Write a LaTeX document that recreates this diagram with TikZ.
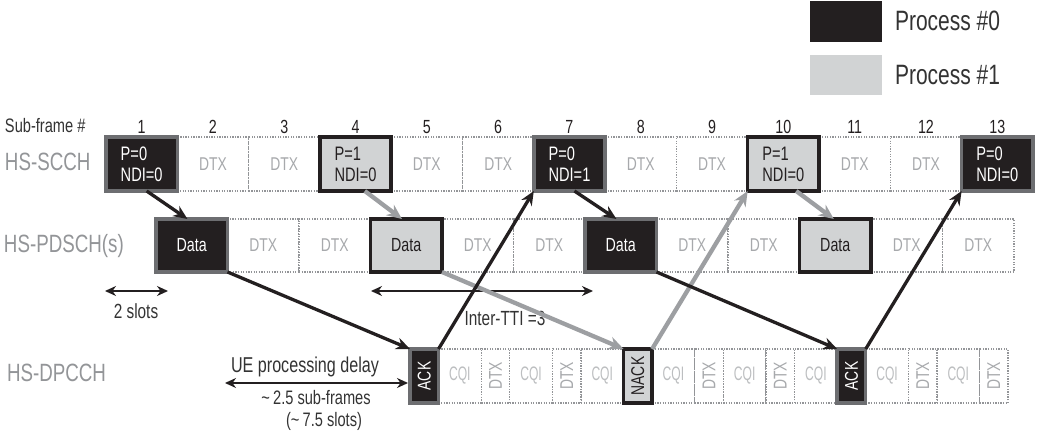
\documentclass[tikz,border=0pt]{standalone}
\usepackage{fontspec}
\setmainfont{Liberation Sans}
\newfontfamily\cf[FakeStretch=0.75]{Liberation Sans}
\newfontfamily\cfn[FakeStretch=0.62]{Liberation Sans}
\usetikzlibrary{arrows.meta,calc}
\newcommand\myfs[2]{\fontsize{#1}{#2}\selectfont}
\definecolor{pblack}{HTML}{231F20}
\definecolor{pgray}{HTML}{D1D3D4}
\definecolor{bordergray}{HTML}{6D6E71}
\definecolor{dotgray}{HTML}{939598}
\definecolor{dtxtxt}{HTML}{A7A9AC}
\definecolor{cqitxt}{HTML}{BCBEC0}
\definecolor{lblgray}{HTML}{939598}
\definecolor{arrgray}{HTML}{9D9FA2}
\definecolor{anntxt}{HTML}{333333}
\tikzset{
  every node/.style={inner sep=0pt, outer sep=0pt},
  dtxbox/.style={draw=dotgray, line width=1.3pt, dash pattern=on 1.3pt off 1.3pt, fill=white, text=dtxtxt, font=\cf\myfs{18.5}{18.5}},
  cqibox/.style={dtxbox, text=cqitxt, font=\cfn\myfs{19.5}{19.5}},
  p0box/.style={draw=bordergray, line width=3.5pt, fill=pblack, text=white},
  p1box/.style={draw=pblack, line width=3.5pt, fill=pgray, text=pblack},
  pinfo/.style={align=left, font=\cf\myfs{19.5}{21}},
  datatxt/.style={font=\cf\myfs{19}{19}},
  acktxt/.style={font=\cf\myfs{18.5}{18.5}},
  rowA/.style={minimum width=71.3pt, minimum height=54pt},
  rowB/.style={minimum width=71.5pt, minimum height=53pt},
  slotbox/.style={minimum width=28.5pt, minimum height=54pt},
  cqiw/.style={minimum width=42.7pt, minimum height=54pt},
  rowlabel/.style={anchor=west, text=lblgray, font=\cf\myfs{25}{25}},
  numlabel/.style={text=pblack, font=\cf\myfs{19}{19}},
  ann/.style={text=anntxt, font=\cf\myfs{20.5}{22}},
  legtxt/.style={anchor=west, text=anntxt, font=\cf\myfs{28}{28}},
  blackarrow/.style={draw=pblack, line width=3.3pt, -{Stealth[length=14pt,width=12pt]}},
  grayarrow/.style={draw=arrgray, line width=4.3pt, -{Stealth[length=15pt,width=13pt]}},
  dimarrow/.style={draw=pblack, line width=1.8pt, {Stealth[length=11pt,width=10pt]}-{Stealth[length=11pt,width=10pt]}},
}
\begin{document}
\begin{tikzpicture}[x=1pt,y=-1pt]
\useasboundingbox (0,0) rectangle (1059,435);

% legend
\node[fill=pblack, minimum width=72pt, minimum height=41pt] (leg0) at (846,21.5) {};
\node[fill=pgray, minimum width=72pt, minimum height=40pt] (leg1) at (846,75) {};
\node[legtxt] (lt0) at (895,21) {Process \#0};
\node[legtxt] (lt1) at (895,75) {Process \#1};

% labels
\node[anchor=west, text=anntxt, font=\cf\myfs{19.5}{19.5}] (sfl) at (5,126) {Sub-frame \#};
\node[rowlabel] (l1) at (5,162) {HS-SCCH};
\node[rowlabel] (l2) at (4,246) {HS-PDSCH(s)};
\node[rowlabel] (l3) at (7,373) {HS-DPCCH};

\foreach \i in {1,...,13}
  \node[numlabel] (n\i) at ({106+71.3*(\i-0.5)},127) {\i};

% row 1: HS-SCCH
\foreach \i in {2,3,5,6,8,9,11,12}
  \node[dtxbox,rowA] (s\i) at ({106+71.3*(\i-0.5)},164) {DTX};
\node[p0box,rowA,pinfo] (s1) at (141.65,164) {P=0\\NDI=0};
\node[p1box,rowA,pinfo] (s4) at (355.55,164) {P=1\\NDI=0};
\node[p0box,rowA,pinfo] (s7) at (569.45,164) {P=0\\NDI=1};
\node[p1box,rowA,pinfo] (s10) at (783.35,164) {P=1\\NDI=0};
\node[p0box,rowA,pinfo] (s13) at (997.25,164) {P=0\\NDI=0};

% row 2: HS-PDSCH
\foreach \i in {2,3,5,6,8,9,11,12}
  \node[dtxbox,rowB] (d\i) at ({156+71.5*(\i-0.5)},245.5) {DTX};
\node[p0box,rowB,datatxt] (d1) at (191.75,245.5) {Data};
\node[p1box,rowB,datatxt] (d4) at (406.25,245.5) {Data};
\node[p0box,rowB,datatxt] (d7) at (620.75,245.5) {Data};
\node[p1box,rowB,datatxt] (d10) at (835.25,245.5) {Data};

% row 3: HS-DPCCH
\foreach \k in {0,...,7}
  \node[cqibox,cqiw] (q\k) at ({410+71.2*\k+28.5+21.35},376) {CQI};
\foreach \k in {1,2,4,5,7,8}
  \node[dtxbox,slotbox] (h\k) at ({410+71.2*\k+14.25},376) {\rotatebox{90}{DTX}};
\node[p0box,slotbox,acktxt] (h0) at (424.25,376) {\rotatebox{90}{ACK}};
\node[p1box,slotbox,acktxt] (h3) at (637.85,376) {\rotatebox{90}{NACK}};
\node[p0box,slotbox,acktxt] (h6) at (851.45,376) {\rotatebox{90}{ACK}};

% dimension arrows
\coordinate (a1) at (105,291);
\coordinate (a2) at (168,291);
\coordinate (b1) at (371,291);
\coordinate (b2) at (593,291);
\coordinate (c1) at (225,383);
\coordinate (c2) at (408,383);
\draw[dimarrow] (a1) -- (a2);
\draw[dimarrow] (b1) -- (b2);
\draw[dimarrow] (c1) -- (c2);
\node[ann] (t2s) at (136,311) {2 slots};
\node[ann] (tit) at (505,318) {Inter-TTI =3};
\node[ann, font=\cf\myfs{21.5}{21.5}] (tue) at (305,367) {UE processing delay};
\node[ann, font=\cf\myfs{19.5}{19.5}] (tsf) at (316,397.5) {\textasciitilde\,2.5 sub-frames};
\node[ann, font=\cf\myfs{19.5}{19.5}] (tsl) at (324,421) {(\textasciitilde\,7.5 slots)};

% process #1 arrows (gray)
\draw[grayarrow] ($(s4.south west)!0.63!(s4.south east)$) -- ($(d4.north west)!0.44!(d4.north east)$);
\draw[grayarrow] (d4.south east) -- (h3.north west);
\draw[grayarrow] (h3.north east) -- (s10.south west);
\draw[grayarrow] ($(s10.south west)!0.68!(s10.south east)$) -- ($(d10.north west)!0.48!(d10.north east)$);

% process #0 arrows (black)
\draw[blackarrow] ($(s1.south west)!0.57!(s1.south east)$) -- ($(d1.north west)!0.44!(d1.north east)$);
\draw[blackarrow] (d1.south east) -- (h0.north west);
\draw[blackarrow] (h0.north east) -- (s7.south west);
\draw[blackarrow] ($(s7.south west)!0.57!(s7.south east)$) -- ($(d7.north west)!0.44!(d7.north east)$);
\draw[blackarrow] (d7.south east) -- (h6.north west);
\draw[blackarrow] (h6.north east) -- (s13.south west);
\end{tikzpicture}
\end{document}
